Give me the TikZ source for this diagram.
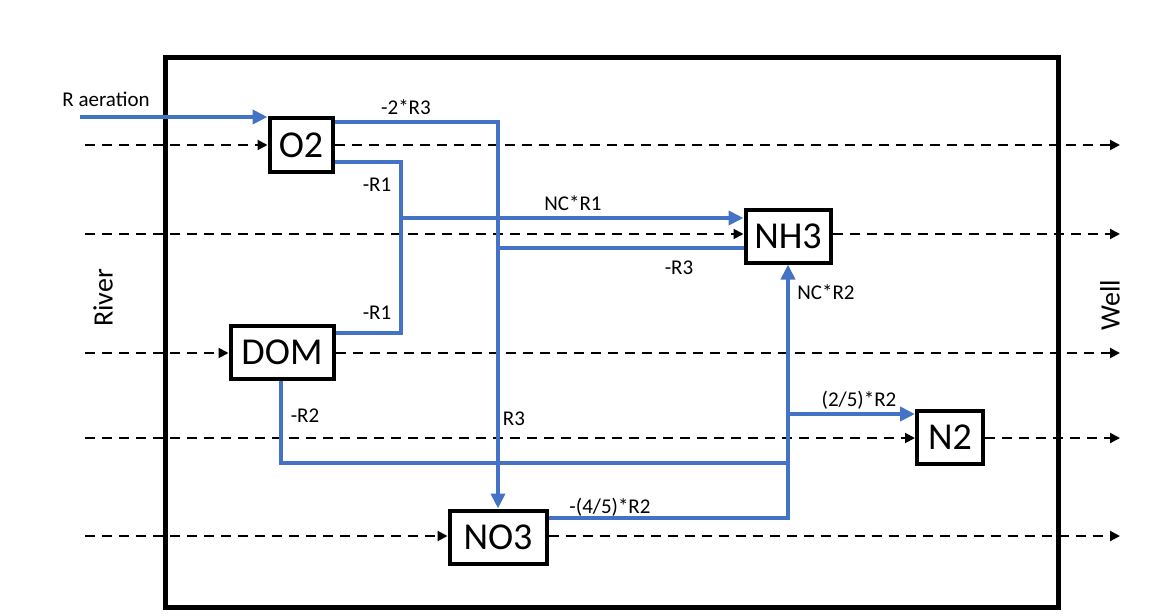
\documentclass[tikz,border=0pt]{standalone}
\usepackage{fontspec}
\setmainfont{Carlito}
\usetikzlibrary{arrows.meta,positioning}
\definecolor{rateblue}{HTML}{4472C4}

\begin{document}
\begin{tikzpicture} [x=0.5pt,y=-0.5pt,line join=miter,
			species/.style={draw,line width=2pt,fill=white,inner sep=0pt,minimum height=26.5pt,font=\fontsize{19}{19}\selectfont},
			flow/.style={line width=1pt,dash pattern=on 5pt off 3.5pt,-{Triangle[length=5pt,width=5pt]}},
			rate/.style={draw=rateblue,line width=2pt},
			ratearrow/.style={rate,-{Triangle[length=7.5pt,width=7pt]}},
			ratelabel/.style={font=\fontsize{10.5}{12}\selectfont,inner sep=0pt},
			side/.style={font=\fontsize{14}{16}\selectfont,inner sep=0pt,rotate=90}
			]

		\useasboundingbox (0,0) rectangle (1174,616);
		\draw [line width=2.5pt] (165,57) rectangle (1058,607);

		\node [species, minimum width=31.5pt, minimum height=27pt] (o2) at (301,145) {O2};
		\node [species, minimum width=51.5pt] (dom) at (282,352) {DOM};
		\node [species, minimum width=42.5pt] (nh3) at (788,236) {NH3};
		\node [species, minimum width=33pt] (n2) at (950,437) {N2};
		\node [species, minimum width=48.5pt] (no3) at (498,537) {NO3};

		\coordinate (in1) at (85,145);  \coordinate (out1) at (1120,145);
		\coordinate (in2) at (85,234);  \coordinate (out2) at (1120,234);
		\coordinate (in3) at (85,353);  \coordinate (out3) at (1120,353);
		\coordinate (in4) at (85,438);  \coordinate (out4) at (1120,438);
		\coordinate (in5) at (85,536);  \coordinate (out5) at (1120,536);

		\draw [flow] (in1) -- (o2.west);
		\draw [flow] (o2.east) -- (out1);
		\draw [flow] (in2) -- (in2 -| nh3.west);
		\draw [flow] (nh3.east |- in2) -- (out2);
		\draw [flow] (in3) -- (in3 -| dom.west);
		\draw [flow] (dom.east |- in3) -- (out3);
		\draw [flow] (in4) -- (in4 -| n2.west);
		\draw [flow] (n2.east |- in4) -- (out4);
		\draw [flow] (in5) -- (in5 -| no3.west);
		\draw [flow] (no3.east |- in5) -- (out5);

		\coordinate (aer) at (80,117);
		\coordinate (r3a) at (498,122);
		\coordinate (r1a) at (401,162);
		\coordinate (r1b) at (401,333);
		\coordinate (r1c) at (401,218);
		\coordinate (r3b) at (498,248);
		\coordinate (r2a) at (281,463);
		\coordinate (r2b) at (788,463);
		\coordinate (r2c) at (788,518);
		\coordinate (r2d) at (788,414);

		\draw [ratearrow] (aer) -- (aer -| o2.west);
		\draw [ratearrow] (r3a -| o2.east) -- (r3a) -- (no3.north);
		\draw [rate] (r1a -| o2.east) -- (r1a) -- (r1b) -- (r1b -| dom.east);
		\draw [ratearrow] (r1c) -- (r1c -| nh3.west);
		\draw [rate] (r3b) -- (r3b -| nh3.west);
		\draw [rate] (r2a |- dom.south) -- (r2a) -- (r2b);
		\draw [ratearrow] (r2c -| no3.east) -- (r2c) -- (nh3.south);
		\draw [ratearrow] (r2d) -- (r2d -| n2.west);

		\node [ratelabel] (laer) at (106,99) {R aeration};
		\node [ratelabel] (lr3a) at (406,107) {-2*R3};
		\node [ratelabel] (lr1a) at (377,185) {-R1};
		\node [ratelabel] (lr1b) at (377,313) {-R1};
		\node [ratelabel] (lr1c) at (573,203) {NC*R1};
		\node [ratelabel] (lr3b) at (679,268) {-R3};
		\node [ratelabel] (lr3c) at (514,419) {R3};
		\node [ratelabel] (lr2a) at (305,416) {-R2};
		\node [ratelabel] (lr2b) at (610,507) {-(4/5)*R2};
		\node [ratelabel] (lr2c) at (826,292) {NC*R2};
		\node [ratelabel] (lr2d) at (859,400) {(2/5)*R2};

		\node [side] (river) at (103,298) {River};
		\node [side] (well) at (1110,305) {Well};

		\end{tikzpicture}
\end{document}
